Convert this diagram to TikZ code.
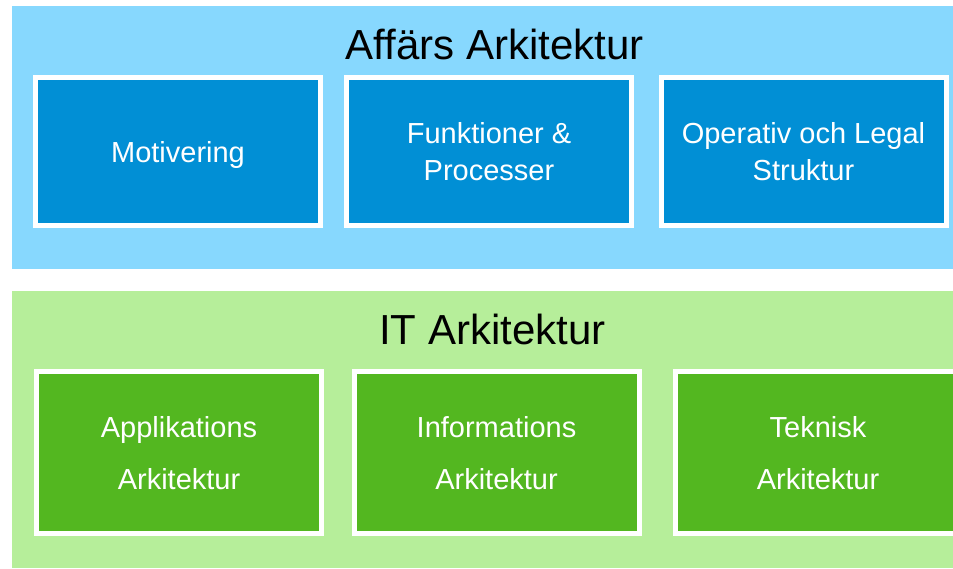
\documentclass[tikz,border=0pt]{standalone}
\usepackage{fontspec}
\setmainfont{Liberation Sans}
\definecolor{bizlight}{HTML}{87D8FE}
\definecolor{bizdark}{HTML}{018FD5}
\definecolor{itlight}{HTML}{B6EE9A}
\definecolor{itdark}{HTML}{53B720}
\tikzset{
  panel/.style={draw=none, inner sep=0pt, anchor=north west},
  title/.style={anchor=base, text=black, inner sep=0pt,
    font=\fontsize{42}{50}\selectfont},
  block/.style={draw=white, line width=5pt, inner sep=0pt, text=white,
    align=center, text depth=0pt, minimum width=285pt},
  bizblock/.style={block, fill=bizdark, minimum height=147.5pt,
    font=\fontsize{29}{37}\selectfont},
  itblock/.style={block, fill=itdark, minimum height=162pt,
    font=\fontsize{29}{52}\selectfont},
}
\begin{document}
\begin{tikzpicture}[x=1pt, y=-1pt]
  \useasboundingbox (0,0) rectangle (953,569);
  \clip (0,0) rectangle (953,569);
  % background panels
  \fill[white] (0,0) rectangle (953,569);
  \node[panel, fill=bizlight, minimum width=960pt, minimum height=263pt] (bizpanel) at (12,6) {};
  \node[panel, fill=itlight, minimum width=960pt, minimum height=277pt] (itpanel) at (12,291) {};
  % business architecture
  \node[title] (biztitle) at (494.5,60) {Affärs Arkitektur};
  \node[bizblock] (motiv) at (178,151.5) {Motivering};
  \node[bizblock] (funk) at (489,151.5) {Funktioner \&\\Processer};
  \node[bizblock] (oper) at (803.5,151.5) {Operativ och Legal\\Struktur};
  % IT architecture
  \node[title] (ittitle) at (492.5,344) {IT Arkitektur};
  \node[itblock] (appl) at (179,452.5) {Applikations\\Arkitektur};
  \node[itblock] (info) at (496.5,452.5) {Informations\\Arkitektur};
  \node[itblock] (tekn) at (818,452.5) {Teknisk\\Arkitektur};
\end{tikzpicture}
\end{document}
